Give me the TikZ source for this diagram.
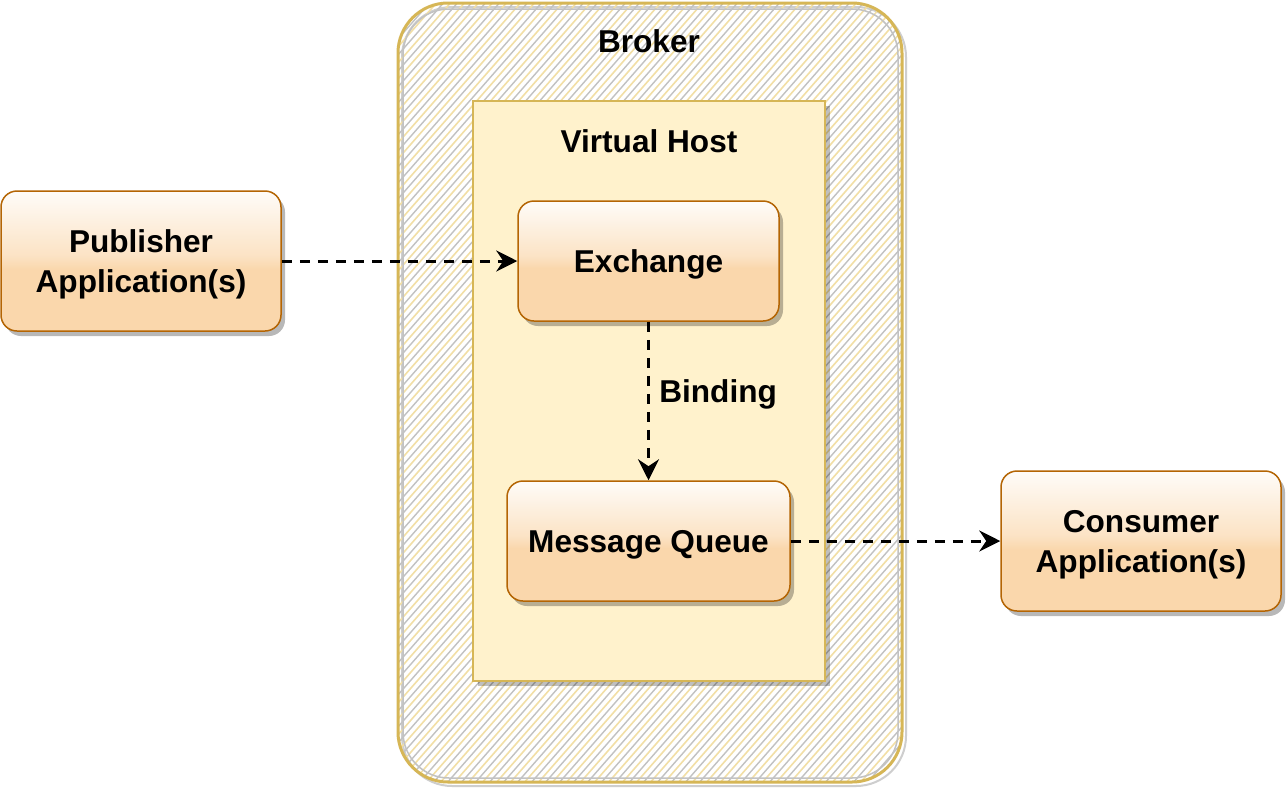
\documentclass[tikz,border=0pt]{standalone}
\usepackage{fontspec}
\setmainfont{Liberation Sans}
\usetikzlibrary{arrows.meta,shadows}
\definecolor{gold}{HTML}{D6B656}
\definecolor{vhfill}{HTML}{FFF2CC}
\definecolor{orfill}{HTML}{FAD7AC}
\definecolor{orline}{HTML}{B46504}
\definecolor{hatchgrey}{HTML}{C2C2C2}
\definecolor{hatchgold}{HTML}{F2DFA6}
\pgfdeclareverticalshading{glass}{100bp}{color(0bp)=(orfill); color(25bp)=(orfill); color(47bp)=(orfill); color(52bp)=(orfill!70!white); color(75bp)=(orfill!8!white); color(100bp)=(orfill!8!white)}
\tikzset{
  lbl/.style={font=\bfseries\fontsize{31.6}{40}\selectfont, text=black, align=center},
  app/.style={lbl, rounded corners=16pt, draw=orline, line width=1.5pt, shading=glass,
    drop shadow={shadow xshift=4pt, shadow yshift=-5pt, fill=black, opacity=0.28},
    inner sep=0pt, text depth=0pt, text height=22.6pt},
  app2/.style={app, text height=62.6pt},
  conn/.style={line width=3pt, dash pattern=on 10pt off 8pt,
    -{Stealth[length=21pt,width=21pt,inset=7pt]}},
}
\begin{document}
\begin{tikzpicture}[x=1pt,y=-1pt]
\useasboundingbox (0,0) rectangle (1286,788);
\fill[white] (0,0) rectangle (1286,788);
% Broker
\draw[hatchgrey!80, line width=2pt, rounded corners=50pt] (402,7) rectangle (906,786);
\begin{scope}
  \clip[rounded corners=50pt] (398,3) rectangle (902,782);
  \foreach \x in {-800,-786,...,1000} {
    \draw[hatchgrey, line width=1.4pt] (\x,800) -- (\x+700,0);
    \draw[hatchgold, line width=1.6pt] (\x+7,800) -- (\x+707,0);
  }
\end{scope}
\draw[gold, line width=3pt, rounded corners=50pt] (398,3) rectangle (902,782);
\draw[hatchgrey, line width=1.5pt, rounded corners=46pt] (403,9) rectangle (898,778);
\node[lbl] (broker) at (649,41) {Broker};
% Virtual host
\fill[black, opacity=0.25] (478,106) rectangle (830,686);
\draw[gold, fill=vhfill, line width=2pt] (473,101) rectangle (825,681);
\node[lbl] (vh) at (649,141) {Virtual Host};
% Boxes
\node[app2, minimum width=280pt, minimum height=140pt] (pub) at (141,261) {Publisher\\Application(s)};
\node[app, minimum width=261pt, minimum height=120pt] (ex) at (648.5,261) {Exchange};
\node[app, minimum width=283pt, minimum height=120pt] (mq) at (648.5,541) {Message Queue};
\node[app2, minimum width=280pt, minimum height=140pt] (con) at (1141,541) {Consumer\\Application(s)};
% Connectors
\draw[conn] (pub.east) -- (ex.west);
\draw[conn] (ex.south) -- node[lbl, right, xshift=6pt, yshift=7pt] (bind) {Binding} (mq.north);
\draw[conn] (mq.east) -- (con.west);
\end{tikzpicture}
\end{document}
